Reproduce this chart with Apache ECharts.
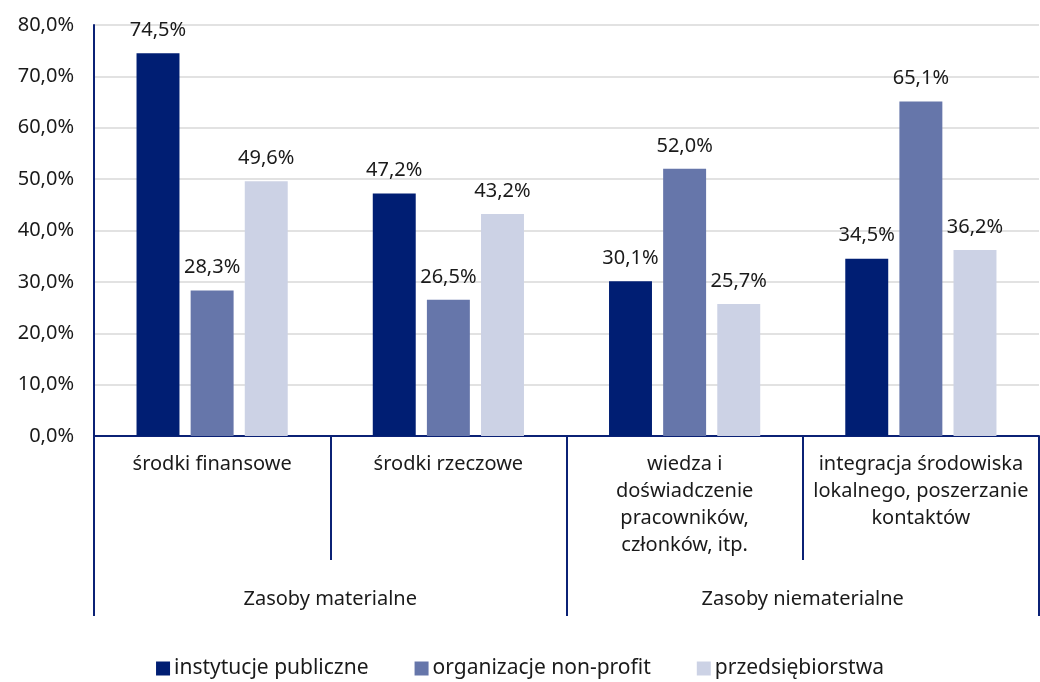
<!DOCTYPE html>
<html>
<head>
<meta charset="utf-8">
<script src="https://cdn.jsdelivr.net/npm/echarts@6/dist/echarts.min.js"></script>
<style>
  html, body { margin: 0; padding: 0; background: #fff; }
  #chart { width: 1040px; height: 682px; }
</style>
</head>
<body>
<div id="chart"></div>
<script>
// kategorie (dolny poziom osi) i grupy (górny poziom)
let categories = [
  'środki finansowe',
  'środki rzeczowe',
  'wiedza i\ndoświadczenie\npracowników,\nczłonków, itp.',
  'integracja środowiska\nlokalnego, poszerzanie\nkontaktów'
]
let groups = ['Zasoby materialne', 'Zasoby niematerialne']

let seriesNames = ['instytucje publiczne', 'organizacje non-profit', 'przedsiębiorstwa']
let publiczne = [74.5, 47.2, 30.1, 34.5]
let nonProfit = [28.3, 26.5, 52.0, 65.1]
let przedsiebiorstwa = [49.6, 43.2, 25.7, 36.2]

let yTicks = [0, 10, 20, 30, 40, 50, 60, 70, 80]

let navy = '#0B2175'
let font = 'Noto Sans'
let fs = 20
let pct = v => v.toFixed(1).replace('.', ',') + '%'

let chart = echarts.init(document.getElementById('chart'), null, { renderer: 'canvas' })

let makeSeries = (name, data) => ({
  name: name,
  type: 'bar',
  data: data,
  xAxisIndex: 0,
  barGap: '26%',
  barCategoryGap: '36%',
  label: {
    show: true,
    position: 'top',
    distance: 13,
    formatter: p => pct(p.value),
    color: '#1a1a1a',
    fontFamily: font,
    fontSize: fs
  }
})

let option = {
  color: ['#001E73', '#6676AA', '#CCD2E5'],
  textStyle: { fontFamily: font },
  grid: {
    left: 94,
    right: 1,
    top: 25,
    bottom: 246
  },
  legend: {
    data: seriesNames,
    bottom: -2,
    left: 'center',
    icon: 'rect',
    itemWidth: 14,
    itemHeight: 14,
    itemGap: 46,
    textStyle: { fontFamily: font, fontSize: 21, color: '#1a1a1a', padding: [0, 0, 0, -1] }
  },
  xAxis: [
    {
      type: 'category',
      data: categories,
      position: 'bottom',
      axisLine: { show: true, lineStyle: { color: navy, width: 2 } },
      axisTick: {
        show: true,
        interval: 0,
        length: 124,
        lineStyle: { color: navy, width: 2 }
      },
      axisLabel: {
        interval: 0,
        margin: 15,
        color: '#1a1a1a',
        fontFamily: font,
        fontSize: fs,
        lineHeight: 27,
        verticalAlign: 'top'
      }
    },
    {
      type: 'category',
      data: groups,
      position: 'bottom',
      axisLine: { show: false },
      axisTick: {
        show: true,
        interval: 0,
        length: 180,
        lineStyle: { color: navy, width: 2 }
      },
      axisLabel: {
        interval: 0,
        margin: 153,
        color: '#1a1a1a',
        fontFamily: font,
        fontSize: fs,
        verticalAlign: 'top'
      }
    }
  ],
  yAxis: {
    type: 'value',
    min: yTicks[0],
    max: yTicks[yTicks.length - 1],
    interval: 10,
    axisLine: { show: true, lineStyle: { color: navy, width: 2 } },
    axisTick: { show: false },
    splitLine: { show: true, lineStyle: { color: '#D9D9D9', width: 1.5 } },
    axisLabel: {
      margin: 20,
      formatter: v => pct(v),
      color: '#1a1a1a',
      fontFamily: font,
      fontSize: fs
    }
  },
  series: [
    makeSeries(seriesNames[0], publiczne),
    makeSeries(seriesNames[1], nonProfit),
    makeSeries(seriesNames[2], przedsiebiorstwa)
  ]
}

chart.setOption(option)
</script>
</body>
</html>
